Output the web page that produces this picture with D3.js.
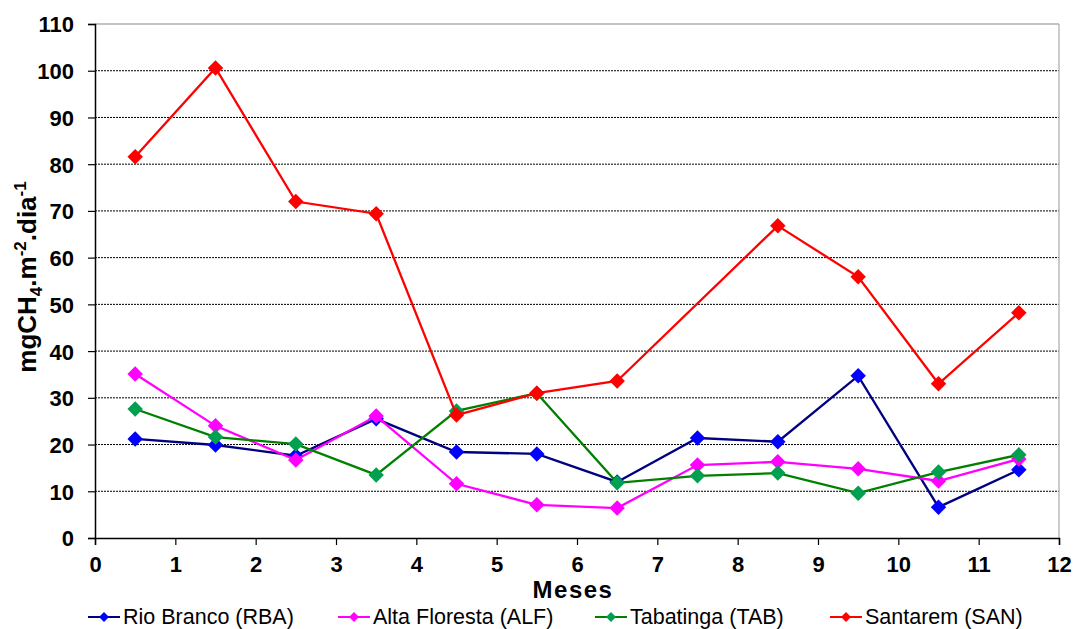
<!DOCTYPE html>
<html><head><meta charset="utf-8">
<script src="https://cdn.jsdelivr.net/npm/d3@7"></script>
<style>body{margin:0;background:#fff}svg{display:block;font-family:Arial,"Liberation Sans",sans-serif}</style>
</head><body><svg id="c" width="1075" height="629"></svg>
<script>
const months = [0.5,1.5,2.5,3.5,4.5,5.5,6.5,7.5,8.5,9.5,10.5,11.5];
const rioBranco = [21.2,19.9,17.6,25.5,18.4,18.0,12.0,21.4,20.6,34.7,6.6,14.6];
const altaFloresta = [35.1,24.0,16.7,26.1,11.6,7.1,6.4,15.6,16.3,14.8,12.2,16.9];
const tabatinga = [27.6,21.6,20.1,13.5,27.2,31.0,11.8,13.3,13.9,9.6,14.1,17.8];
const santarem = [81.6,100.6,72.0,69.4,26.3,31.0,33.6,null,66.8,55.9,33.0,48.2];
const seriesNames = ["Rio Branco (RBA)","Alta Floresta (ALF)","Tabatinga (TAB)","Santarem (SAN)"];
const xTicks = [0,1,2,3,4,5,6,7,8,9,10,11,12];
const yTicks = [0,10,20,30,40,50,60,70,80,90,100,110];

const series = [
  {name:seriesNames[0], values:rioBranco, line:"#000080", mark:"#0000ff"},
  {name:seriesNames[1], values:altaFloresta, line:"#ff00ff", mark:"#ff00ff"},
  {name:seriesNames[2], values:tabatinga, line:"#008000", mark:"#00a050"},
  {name:seriesNames[3], values:santarem, line:"#ff0000", mark:"#ff0000"}
];

const svg = d3.select("#c");
const L=95, R=1059, T=24, B=538;
const x = d3.scaleLinear().domain([0,12]).range([L,R]);
const y = d3.scaleLinear().domain([0,110]).range([B,T]);

// gridlines
svg.append("g").selectAll("line").data(yTicks.filter(v=>v>0 && v<110)).join("line")
  .attr("x1",L).attr("x2",R).attr("y1",d=>y(d)).attr("y2",d=>y(d))
  .attr("stroke","#000").attr("stroke-width",1).attr("stroke-dasharray","2,1");
// top and right border
svg.append("line").attr("x1",L).attr("x2",R).attr("y1",y(110)).attr("y2",y(110)).attr("stroke","#888").attr("stroke-width",1.2);
svg.append("line").attr("x1",R).attr("x2",R).attr("y1",T).attr("y2",B).attr("stroke","#aaa").attr("stroke-width",1.2);

// axes
const yAxis = svg.append("g").attr("transform",`translate(${L},0)`)
  .call(d3.axisLeft(y).tickValues(yTicks).tickSize(7).tickPadding(14));
const xAxis = svg.append("g").attr("transform",`translate(0,${B})`)
  .call(d3.axisBottom(x).tickValues(xTicks).tickSize(7).tickPadding(11));
[yAxis,xAxis].forEach(g=>{
  g.select(".domain").attr("stroke","#000").attr("stroke-width",1.5);
  g.selectAll(".tick line").attr("stroke","#000").attr("stroke-width",1.2);
  g.selectAll(".tick text").attr("font-size",22).attr("font-weight","bold").attr("fill","#000")
   .attr("font-family","Arial, 'Liberation Sans', sans-serif");
});
yAxis.selectAll(".tick text").attr("dy","0.36em");

// lines and markers
const line = d3.line().x(d=>x(d[0])).y(d=>y(d[1]));
series.forEach(s=>{
  const pts = months.map((m,i)=>[m,s.values[i]]).filter(d=>d[1]!==null);
  svg.append("path").datum(pts).attr("d",line).attr("fill","none").attr("stroke",s.line).attr("stroke-width",2.3);
  svg.append("g").selectAll("path").data(pts).join("path")
    .attr("d",d3.symbol().type(d3.symbolSquare).size(120))
    .attr("transform",d=>`translate(${x(d[0])},${y(d[1])}) rotate(45)`)
    .attr("fill",s.mark);
});

// axis titles
svg.append("text").attr("x",573).attr("y",598).attr("text-anchor","middle")
  .attr("font-size",24).attr("font-weight","bold").attr("letter-spacing",1.5).text("Meses");
const yl = svg.append("text").attr("transform","translate(36,277) rotate(-90)").attr("text-anchor","middle")
  .attr("font-size",26).attr("font-weight","bold");
yl.append("tspan").text("mgCH");
yl.append("tspan").attr("font-size",17).attr("dy",6).text("4");
yl.append("tspan").attr("dy",-6).text(".m");
yl.append("tspan").attr("font-size",17).attr("dy",-10).text("-2");
yl.append("tspan").attr("dy",10).text(".dia");
yl.append("tspan").attr("font-size",17).attr("dy",-10).text("-1");

// legend
const legX = [88,338,595,830];
const lg = svg.append("g").selectAll("g").data(series).join("g")
  .attr("transform",(d,i)=>`translate(${legX[i]},617)`);
lg.append("line").attr("x1",0).attr("x2",32).attr("stroke",d=>d.line).attr("stroke-width",2);
lg.append("path").attr("d",d3.symbol().type(d3.symbolSquare).size(50)).attr("transform","translate(16,0) rotate(45)").attr("fill",d=>d.mark);
lg.append("text").attr("x",35).attr("y",7).attr("font-size",21.5).attr("fill","#000").text(d=>d.name);
</script></body></html>
